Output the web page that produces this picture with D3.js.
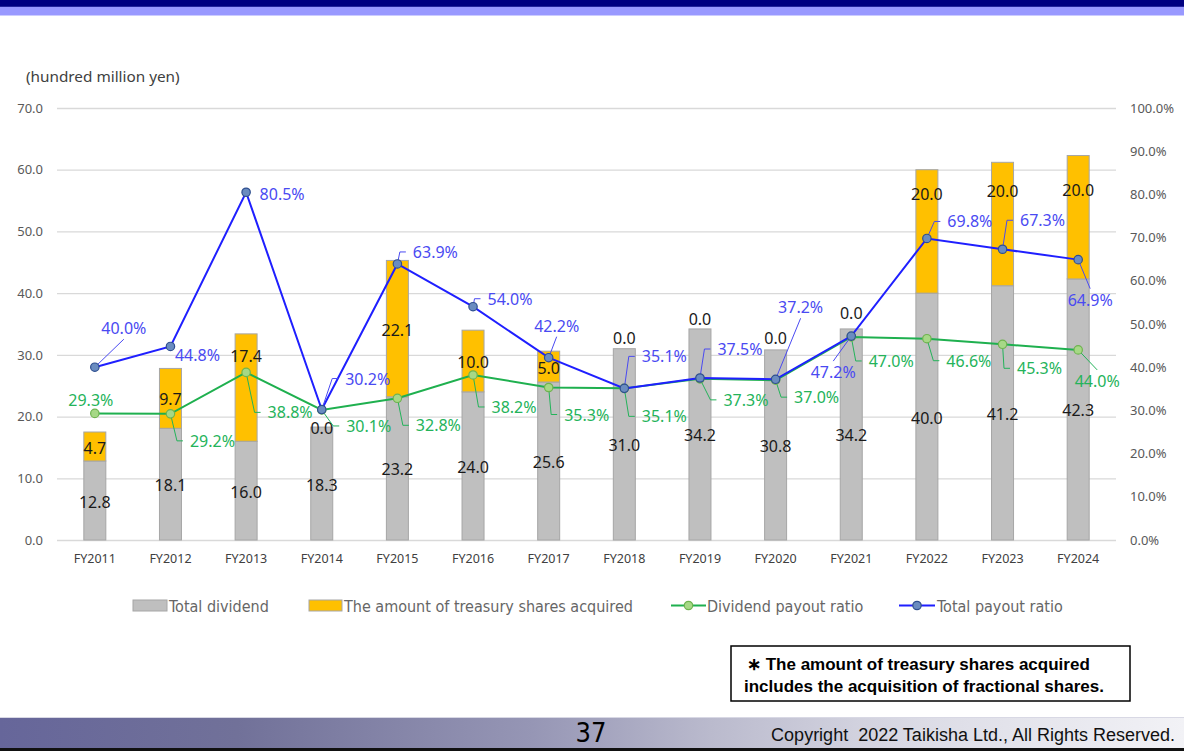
<!DOCTYPE html>
<html>
<head>
<meta charset="utf-8">
<script src="https://cdn.jsdelivr.net/npm/d3@7"></script>
<style>
body{margin:0;background:#fff;}
svg{display:block;font-family:"Noto Sans",sans-serif;}
</style>
</head>
<body>
<svg width="1184" height="753"></svg>
<script>
// donnees
var years = ["FY2011","FY2012","FY2013","FY2014","FY2015","FY2016","FY2017","FY2018","FY2019","FY2020","FY2021","FY2022","FY2023","FY2024"];
var totalDividend = [12.8,18.1,16.0,18.3,23.2,24.0,25.6,31.0,34.2,30.8,34.2,40.0,41.2,42.3];
var treasuryShares = [4.7,9.7,17.4,0.0,22.1,10.0,5.0,0.0,0.0,0.0,0.0,20.0,20.0,20.0];
var dividendPayout = [29.3,29.2,38.8,30.1,32.8,38.2,35.3,35.1,37.3,37.0,47.0,46.6,45.3,44.0];
var totalPayout = [40.0,44.8,80.5,30.2,63.9,54.0,42.2,35.1,37.5,37.2,47.2,69.8,67.3,64.9];
var leftTicks = [0,10,20,30,40,50,60,70];
var rightTicks = [0,10,20,30,40,50,60,70,80,90,100];
var legendLabels = ["Total dividend","The amount of treasury shares acquired","Dividend payout ratio","Total payout ratio"];

// placement des etiquettes (deplacees a la main dans l'original)
var totalLabelPos = [[29,-39,"bottom"],[27,9,"none"],[36,2,"none"],[46,-31,"side"],[38,-12,"side"],[37,-8,"side"],[8,-32,"bottom"],
                     [40,-32,"side"],[40,-29,"side"],[25,-72,"bottom"],[-18,36,"top"],[43,-17,"side"],[40,-29,"side"],[12,40,"top"]];
var divLabelPos = [[-4,-13,"none"],[42,27,"side"],[44,40,"side"],[47,16,"side"],[41,27,"side"],[41,32,"side"],[38,27,"side"],
                   [40,28,"side"],[46,21,"side"],[41,17,"side"],[40,24,"side"],[42,22,"side"],[37,24,"side"],[19,31,"top"]];
var treasuryLabelDy = [0,0,-33,0,0,0,0,-12,-11,-13,-17,-38,-34,-28];

var svg = d3.select("svg");

var GREY = "#bfbfbf", ORANGE = "#ffc000";
var GREEN = "#1fb04f", GREEN_TXT = "#24b35a";
var BLUE = "#1f1fff", BLUE_TXT = "#4a4af2";

// bandeau du haut
svg.append("rect").attr("x",0).attr("y",0).attr("width",1184).attr("height",6).attr("fill","#000080");
svg.append("rect").attr("x",0).attr("y",6).attr("width",1184).attr("height",1).attr("fill","#25259c");
svg.append("rect").attr("x",0).attr("y",7).attr("width",1184).attr("height",8).attr("fill","#9999ff");
svg.append("rect").attr("x",0).attr("y",15).attr("width",1184).attr("height",1).attr("fill","#ccccff");

// echelles
var x = d3.scaleBand().domain(years).range([57,1116]);
var cx = function(i){ return x(years[i]) + x.bandwidth()/2; };
var barW = 22;
var yL = d3.scaleLinear().domain([0,70]).range([540,108]);
var yR = d3.scaleLinear().domain([0,100]).range([540,108]);

// grille + axe gauche
var gLeft = svg.append("g").attr("transform","translate(57,0)")
  .call(d3.axisLeft(yL).tickValues(leftTicks).tickFormat(d3.format(".1f")).tickSize(-1059).tickPadding(14));
gLeft.select(".domain").remove();
gLeft.selectAll(".tick line").attr("stroke","#d9d9d9").attr("stroke-width",1.3);
gLeft.selectAll(".tick text").attr("fill","#595959").style("font-size","13px").style("font-family","Noto Sans");

// axe droit
var gRight = svg.append("g").attr("transform","translate(1116,0)")
  .call(d3.axisRight(yR).tickValues(rightTicks).tickFormat(function(d){return d.toFixed(1)+"%";}).tickSize(0).tickPadding(14));
gRight.select(".domain").remove();
gRight.selectAll(".tick text").attr("fill","#595959").style("font-size","13px").style("font-family","Noto Sans");

// axe des categories
var gBottom = svg.append("g").attr("transform","translate(0,540)")
  .call(d3.axisBottom(x).tickSize(0).tickPadding(14));
gBottom.select(".domain").remove();
gBottom.selectAll(".tick text").attr("fill","#404040").style("font-size","12.5px").style("font-family","Noto Sans");

// unite
svg.append("text").attr("x",26).attr("y",82).attr("fill","#404040")
  .style("font-size","15.3px").text("(hundred million yen)");

// barres empilees
var table = years.map(function(y,i){ return {year:y, dividend:totalDividend[i], treasury:treasuryShares[i]}; });
var stack = d3.stack().keys(["dividend","treasury"])(table);
var colors = [GREY, ORANGE];

stack.forEach(function(layer,k){
  svg.append("g").selectAll("rect").data(layer).enter().append("rect")
    .attr("x",function(d,i){return cx(i)-barW/2;})
    .attr("y",function(d){return yL(d[1]);})
    .attr("width",barW)
    .attr("height",function(d){return yL(d[0])-yL(d[1]);})
    .attr("fill",colors[k])
    .attr("stroke","#a6a6a6").attr("stroke-width",1);
});

// etiquettes des barres
var fmt1 = d3.format(".1f");
svg.append("g").selectAll("text").data(stack[0]).enter().append("text")
  .attr("x",function(d,i){return cx(i);})
  .attr("y",function(d){return (yL(d[0])+yL(d[1]))/2+1;})
  .attr("text-anchor","middle").attr("dominant-baseline","central")
  .attr("fill","#1a1a1a").style("font-size","16px")
  .text(function(d,i){return fmt1(totalDividend[i]);});
svg.append("g").selectAll("text").data(stack[1]).enter().append("text")
  .attr("x",function(d,i){return cx(i);})
  .attr("y",function(d,i){return (yL(d[0])+yL(d[1]))/2+1+treasuryLabelDy[i];})
  .attr("text-anchor","middle").attr("dominant-baseline","central")
  .attr("fill","#1a1a1a").style("font-size","16px")
  .text(function(d,i){return fmt1(treasuryShares[i]);});

// courbes + etiquettes avec lignes de rappel
function drawRatio(values, lineColor, txtColor, mFill, mStroke, layout){
  var line = d3.line().x(function(d,i){return cx(i);}).y(function(d){return yR(d);});
  svg.append("path").datum(values).attr("d",line)
    .attr("fill","none").attr("stroke",lineColor).attr("stroke-width",2);

  var leaders = svg.append("g");
  var markers = svg.append("g");
  var labels = svg.append("g");

  values.forEach(function(v,i){
    var px = cx(i), py = yR(v);
    var lx = px + layout[i][0], ly = py + layout[i][1];
    var t = labels.append("text").attr("x",lx).attr("y",ly)
      .attr("text-anchor","middle").attr("dominant-baseline","central")
      .attr("fill",txtColor).style("font-size","16px")
      .text(v.toFixed(1)+"%");
    var w = t.node().getComputedTextLength();
    var kind = layout[i][2], pts = null;
    if(kind=="side"){ pts = [[px,py],[lx-w/2-13,ly],[lx-w/2-7,ly]]; }
    if(kind=="bottom"){ pts = [[px,py],[lx,ly+11]]; }
    if(kind=="top"){ pts = [[px,py],[lx,ly-11]]; }
    if(pts){
      leaders.append("path").attr("d",d3.line()(pts))
        .attr("fill","none").attr("stroke",txtColor).attr("stroke-width",1);
    }
    markers.append("circle").attr("cx",px).attr("cy",py).attr("r",4.2)
      .attr("fill",mFill).attr("stroke",mStroke).attr("stroke-width",1.2);
  });
}
drawRatio(dividendPayout, GREEN, GREEN_TXT, "#a6d886", "#6fb34f", divLabelPos);
drawRatio(totalPayout, BLUE, BLUE_TXT, "#6a8cc0", "#2f4f8f", totalLabelPos);

// legende
var legend = svg.append("g").style("font-family","'Liberation Sans Narrow','DejaVu Sans Condensed',sans-serif")
  .style("font-size","16px").attr("fill","#666");
legend.append("rect").attr("x",133).attr("y",600).attr("width",34).attr("height",11).attr("fill",GREY).attr("stroke","#a6a6a6");
legend.append("text").attr("x",169).attr("y",606).attr("dominant-baseline","central").text(legendLabels[0]);
legend.append("rect").attr("x",309).attr("y",600).attr("width",33).attr("height",11).attr("fill",ORANGE).attr("stroke","#a6a6a6");
legend.append("text").attr("x",344).attr("y",606).attr("dominant-baseline","central").text(legendLabels[1]);
legend.append("line").attr("x1",671).attr("x2",706).attr("y1",605.5).attr("y2",605.5).attr("stroke",GREEN).attr("stroke-width",2);
legend.append("circle").attr("cx",688.5).attr("cy",605.5).attr("r",4.2).attr("fill","#a6d886").attr("stroke","#6fb34f").attr("stroke-width",1.2);
legend.append("text").attr("x",707).attr("y",606).attr("dominant-baseline","central").text(legendLabels[2]);
legend.append("line").attr("x1",899).attr("x2",935).attr("y1",605.5).attr("y2",605.5).attr("stroke",BLUE).attr("stroke-width",2);
legend.append("circle").attr("cx",917).attr("cy",605.5).attr("r",4.2).attr("fill","#6a8cc0").attr("stroke","#2f4f8f").attr("stroke-width",1.2);
legend.append("text").attr("x",937).attr("y",606).attr("dominant-baseline","central").text(legendLabels[3]);

// encadre de note
svg.append("rect").attr("x",731).attr("y",646).attr("width",399).attr("height",55)
  .attr("fill","#fff").attr("stroke","#000").attr("stroke-width",1.5);
var note = svg.append("g").style("font-family","'Liberation Sans',Arial,sans-serif")
  .style("font-size","17px").style("font-weight","bold").attr("fill","#000");
note.append("text").attr("x",747).attr("y",670).text("\u2217 The amount of treasury shares acquired");
note.append("text").attr("x",744).attr("y",692).text("includes the acquisition of fractional shares.");

// pied de page
var defs = svg.append("defs");
var grad = defs.append("linearGradient").attr("id","foot").attr("x1","0").attr("x2","1").attr("y1","0").attr("y2","0");
[[0,"#66669a"],[0.2,"#717199"],[0.45,"#9696b5"],[0.6,"#babacd"],[0.78,"#dcdce6"],[1,"#f2f2f6"]].forEach(function(s){
  grad.append("stop").attr("offset",s[0]).attr("stop-color",s[1]);
});
svg.append("rect").attr("x",0).attr("y",717).attr("width",1184).attr("height",31).attr("fill","url(#foot)");
svg.append("rect").attr("x",0).attr("y",717).attr("width",1184).attr("height",1).attr("fill","#d8d8e4");
svg.append("rect").attr("x",0).attr("y",748).attr("width",1184).attr("height",3).attr("fill","#111");
svg.append("text").attr("x",591).attr("y",742).attr("text-anchor","middle")
  .style("font-family","'Liberation Sans Narrow','DejaVu Sans Condensed',sans-serif").style("font-size","27px").attr("fill","#000").text("37");
svg.append("text").attr("x",1175).attr("y",741).attr("text-anchor","end")
  .style("font-family","'Liberation Sans',Arial,sans-serif").style("font-size","18px").style("white-space","pre").attr("fill","#111")
  .text("Copyright  2022 Taikisha Ltd., All Rights Reserved.");
</script>
</body>
</html>
